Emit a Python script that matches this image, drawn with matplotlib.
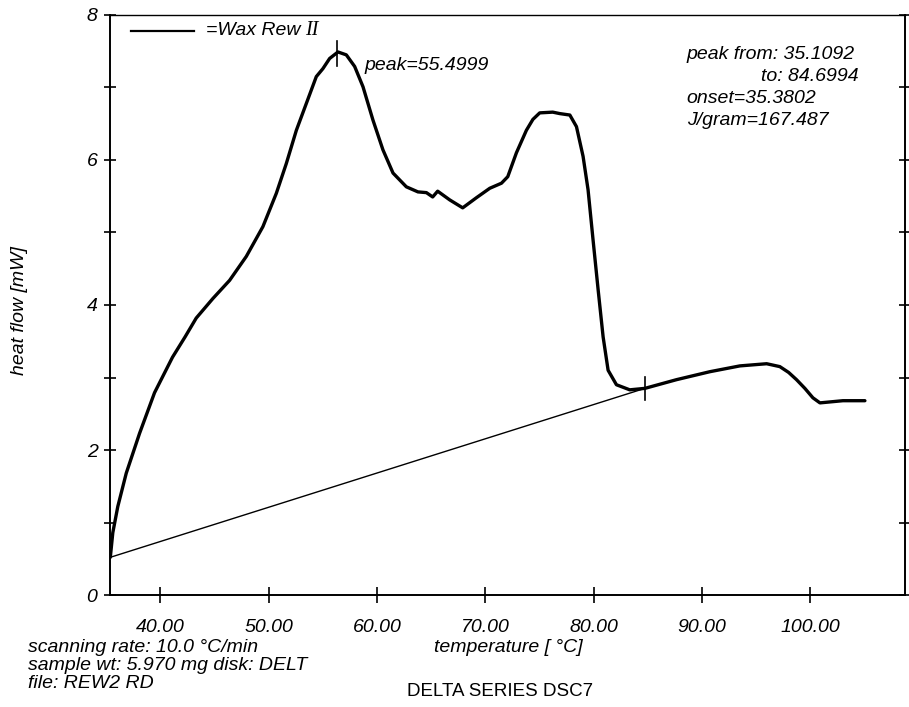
import numpy as np
import matplotlib
matplotlib.use('Agg')
import matplotlib.pyplot as plt

# DSC trace (temperature in C, heat flow in mW)
temp = [35.40, 35.63, 36.09, 36.87, 38.10, 39.48, 41.14, 42.30, 43.33, 44.87,
        46.41, 47.95, 49.48, 50.72, 51.64, 52.57, 53.49, 54.41, 55.02, 55.64,
        56.41, 57.18, 57.95, 58.72, 59.64, 60.56, 61.49, 62.72, 63.79, 64.57,
        65.15, 65.61, 66.72, 67.92, 69.19, 70.42, 71.50, 72.08, 72.88, 73.80,
        74.40, 75.03, 76.23, 76.88, 77.81, 78.42, 79.03, 79.49, 79.95, 80.42,
        80.88, 81.34, 82.11, 83.34, 84.73, 87.65, 90.73, 93.50, 95.97, 97.19,
        98.00, 98.73, 99.50, 100.24, 100.89, 103.01, 105.04]
heat = [0.52, 0.86, 1.22, 1.68, 2.23, 2.79, 3.28, 3.56, 3.82, 4.09,
        4.34, 4.67, 5.08, 5.54, 5.95, 6.41, 6.78, 7.15, 7.26, 7.40,
        7.49, 7.45, 7.29, 7.01, 6.55, 6.14, 5.82, 5.63, 5.56, 5.55,
        5.49, 5.57, 5.45, 5.34, 5.48, 5.61, 5.68, 5.77, 6.10, 6.41,
        6.56, 6.65, 6.66, 6.64, 6.62, 6.46, 6.05, 5.59, 4.90, 4.21,
        3.56, 3.10, 2.90, 2.83, 2.85, 2.97, 3.08, 3.16, 3.19, 3.15,
        3.07, 2.97, 2.85, 2.72, 2.65, 2.68, 2.68]

# baseline for the integration
base_t = [35.40, 84.73]
base_h = [0.52, 2.85]

# tick marks at peak and end of integration
peak_t, peak_h = 56.35, 7.49
end_t, end_h = 84.73, 2.85

xticks = [40, 50, 60, 70, 80, 90, 100]
xlabels = ['40.00', '50.00', '60.00', '70.00', '80.00', '90.00', '100.00']
yticks = [0, 2, 4, 6, 8]

plt.rcParams['font.family'] = ['Liberation Sans', 'DejaVu Sans']
fs = 14

fig = plt.figure(figsize=(9.09, 7.07), dpi=100)
ax = fig.add_axes([0.121, 0.1584, 0.8746, 0.8204])

ax.plot(temp, heat, color='black', lw=2.4, solid_joinstyle='round', solid_capstyle='round')
ax.plot(base_t, base_h, color='black', lw=1.0)
ax.plot([peak_t, peak_t], [peak_h - 0.2, peak_h + 0.15], color='black', lw=1.2)
ax.plot([end_t, end_t], [end_h - 0.16, end_h + 0.16], color='black', lw=1.2)

ax.set_xlim(35.37, 108.74)
ax.set_ylim(0, 8)

ax.set_xticks(xticks)
ax.set_xticklabels(xlabels, fontsize=fs, style='italic')
ax.set_yticks(yticks)
ax.set_yticklabels([str(v) for v in yticks], fontsize=fs, style='italic')
ax.set_yticks(np.arange(0, 9, 1), minor=True)
ax.tick_params(axis='x', direction='inout', length=12, width=1.2, pad=11)
ax.tick_params(axis='y', which='both', direction='inout', length=8, width=1.2, pad=5,
               right=True)
ax.tick_params(axis='y', which='minor', labelleft=False)
for s in ax.spines.values():
    s.set_linewidth(1.4)
ax.spines['top'].set_linewidth(1.0)

ax.set_ylabel('heat flow [mW]', fontsize=fs, style='italic')
ax.yaxis.set_label_coords(-0.103, 0.49)

# legend drawn like the instrument printout
ax.plot([37.3, 43.1], [7.78, 7.78], color='black', lw=1.6)
lt = ax.text(44.2, 7.78, '=Wax Rew ', fontsize=fs, style='italic', va='center')
ax.annotate('II', xy=(1, 0.5), xycoords=lt, va='center', ha='left',
            fontsize=fs + 0.5, style='italic', family='Liberation Serif')

ax.text(58.9, 7.3, 'peak=55.4999', fontsize=fs, style='italic', va='center')

info_x = 35.37 + (687 - 110.5) / 10.83
info_r = 35.37 + (859 - 110.5) / 10.83
ax.text(info_x, (595 - 55) / 72.5, 'peak from: 35.1092', fontsize=fs, style='italic', va='center')
ax.text(info_r, (595 - 77) / 72.5, 'to: 84.6994', fontsize=fs, style='italic', va='center', ha='right')
ax.text(info_x, (595 - 99) / 72.5, 'onset=35.3802', fontsize=fs, style='italic', va='center')
ax.text(info_x, (595 - 121) / 72.5, 'J/gram=167.487', fontsize=fs, style='italic', va='center')

fig.text(28 / 909, 1 - 648 / 707, 'scanning rate: 10.0 \u00b0C/min', fontsize=fs, style='italic', va='center')
fig.text(28 / 909, 1 - 666 / 707, 'sample wt: 5.970 mg disk: DELT', fontsize=fs, style='italic', va='center')
fig.text(28 / 909, 1 - 684 / 707, 'file: REW2 RD', fontsize=fs, style='italic', va='center')
fig.text(508 / 909, 1 - 648 / 707, 'temperature [ \u00b0C]', fontsize=fs, style='italic', va='center', ha='center')
fig.text(500 / 909, 1 - 692 / 707, 'DELTA SERIES DSC7', fontsize=13.5, va='center', ha='center')

fig.savefig('out.png', dpi=100)
